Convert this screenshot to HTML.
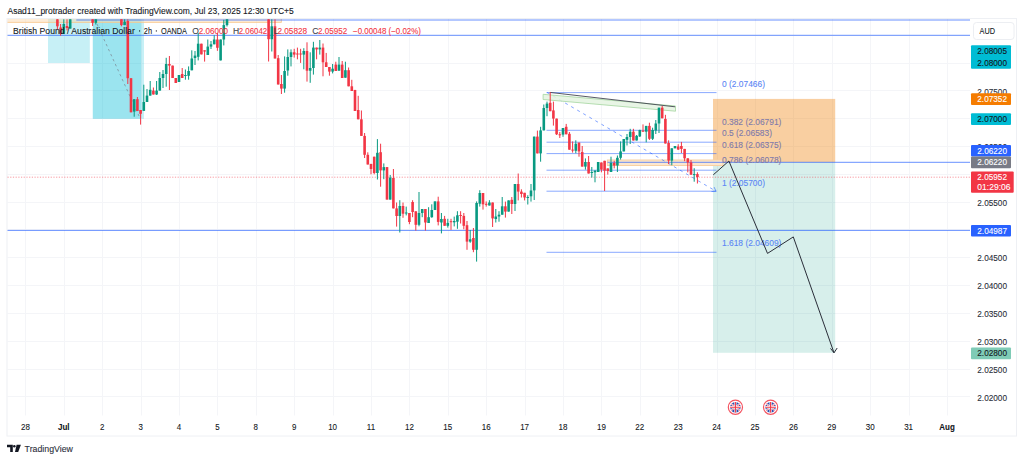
<!DOCTYPE html>
<html><head><meta charset="utf-8"><style>
html,body{margin:0;padding:0;background:#fff;overflow:hidden}
svg{display:block}
text{font-family:"Liberation Sans",sans-serif}
</style></head><body>
<svg width="1024" height="461" viewBox="0 0 1024 461">
<rect x="0" y="0" width="1024" height="461" fill="#fff"/>
<rect x="7" y="18.5" width="1009.5" height="417.5" fill="none" stroke="#eef0f4" stroke-width="1"/>
<g><line x1="25.5" y1="19" x2="25.5" y2="415.5" stroke="#f4f5f8" stroke-width="1"/>
<line x1="64.5" y1="19" x2="64.5" y2="415.5" stroke="#f4f5f8" stroke-width="1"/>
<line x1="102.5" y1="19" x2="102.5" y2="415.5" stroke="#f4f5f8" stroke-width="1"/>
<line x1="141.5" y1="19" x2="141.5" y2="415.5" stroke="#f4f5f8" stroke-width="1"/>
<line x1="179.5" y1="19" x2="179.5" y2="415.5" stroke="#f4f5f8" stroke-width="1"/>
<line x1="217.5" y1="19" x2="217.5" y2="415.5" stroke="#f4f5f8" stroke-width="1"/>
<line x1="256.5" y1="19" x2="256.5" y2="415.5" stroke="#f4f5f8" stroke-width="1"/>
<line x1="294.5" y1="19" x2="294.5" y2="415.5" stroke="#f4f5f8" stroke-width="1"/>
<line x1="333.5" y1="19" x2="333.5" y2="415.5" stroke="#f4f5f8" stroke-width="1"/>
<line x1="371.5" y1="19" x2="371.5" y2="415.5" stroke="#f4f5f8" stroke-width="1"/>
<line x1="409.5" y1="19" x2="409.5" y2="415.5" stroke="#f4f5f8" stroke-width="1"/>
<line x1="448.5" y1="19" x2="448.5" y2="415.5" stroke="#f4f5f8" stroke-width="1"/>
<line x1="486.5" y1="19" x2="486.5" y2="415.5" stroke="#f4f5f8" stroke-width="1"/>
<line x1="525.5" y1="19" x2="525.5" y2="415.5" stroke="#f4f5f8" stroke-width="1"/>
<line x1="563.5" y1="19" x2="563.5" y2="415.5" stroke="#f4f5f8" stroke-width="1"/>
<line x1="601.5" y1="19" x2="601.5" y2="415.5" stroke="#f4f5f8" stroke-width="1"/>
<line x1="640.5" y1="19" x2="640.5" y2="415.5" stroke="#f4f5f8" stroke-width="1"/>
<line x1="678.5" y1="19" x2="678.5" y2="415.5" stroke="#f4f5f8" stroke-width="1"/>
<line x1="717.5" y1="19" x2="717.5" y2="415.5" stroke="#f4f5f8" stroke-width="1"/>
<line x1="755.5" y1="19" x2="755.5" y2="415.5" stroke="#f4f5f8" stroke-width="1"/>
<line x1="793.5" y1="19" x2="793.5" y2="415.5" stroke="#f4f5f8" stroke-width="1"/>
<line x1="832.5" y1="19" x2="832.5" y2="415.5" stroke="#f4f5f8" stroke-width="1"/>
<line x1="870.5" y1="19" x2="870.5" y2="415.5" stroke="#f4f5f8" stroke-width="1"/>
<line x1="909.5" y1="19" x2="909.5" y2="415.5" stroke="#f4f5f8" stroke-width="1"/>
<line x1="947.5" y1="19" x2="947.5" y2="415.5" stroke="#f4f5f8" stroke-width="1"/>
<line x1="7" y1="396.5" x2="970" y2="396.5" stroke="#f4f5f8" stroke-width="1"/>
<line x1="7" y1="369.5" x2="970" y2="369.5" stroke="#f4f5f8" stroke-width="1"/>
<line x1="7" y1="341.5" x2="970" y2="341.5" stroke="#f4f5f8" stroke-width="1"/>
<line x1="7" y1="313.5" x2="970" y2="313.5" stroke="#f4f5f8" stroke-width="1"/>
<line x1="7" y1="285.5" x2="970" y2="285.5" stroke="#f4f5f8" stroke-width="1"/>
<line x1="7" y1="257.5" x2="970" y2="257.5" stroke="#f4f5f8" stroke-width="1"/>
<line x1="7" y1="229.5" x2="970" y2="229.5" stroke="#f4f5f8" stroke-width="1"/>
<line x1="7" y1="202.5" x2="970" y2="202.5" stroke="#f4f5f8" stroke-width="1"/>
<line x1="7" y1="174.5" x2="970" y2="174.5" stroke="#f4f5f8" stroke-width="1"/>
<line x1="7" y1="146.5" x2="970" y2="146.5" stroke="#f4f5f8" stroke-width="1"/>
<line x1="7" y1="118.5" x2="970" y2="118.5" stroke="#f4f5f8" stroke-width="1"/>
<line x1="7" y1="90.5" x2="970" y2="90.5" stroke="#f4f5f8" stroke-width="1"/>
<line x1="7" y1="63.5" x2="970" y2="63.5" stroke="#f4f5f8" stroke-width="1"/>
<line x1="7" y1="35.5" x2="970" y2="35.5" stroke="#f4f5f8" stroke-width="1"/></g>
<g><rect x="48" y="19" width="41.8" height="44" fill="#00bcd4" fill-opacity="0.22"/>
<rect x="92.8" y="19" width="51.2" height="99.8" fill="#00bcd4" fill-opacity="0.22"/>
<rect x="92.8" y="19" width="48.3" height="99.8" fill="#00bcd4" fill-opacity="0.22"/>
<rect x="7.5" y="19" width="274" height="3.4" fill="#fbd9b0" fill-opacity="0.5"/>
<polyline points="7.5,22.4 281.4,22.4 281.4,19" fill="none" stroke="#f7c58a" stroke-opacity="0.8" stroke-width="1"/>
<rect x="713" y="98.9" width="122.2" height="63.4" fill="#ef7c00" fill-opacity="0.37"/>
<rect x="713" y="162.3" width="122.2" height="190.5" fill="#089981" fill-opacity="0.16"/>
<rect x="607.4" y="160" width="115.6" height="5.5" fill="#fce7cf" stroke="#f8d2a4" stroke-width="1"/>
<line x1="76.3" y1="20" x2="970" y2="20" stroke="#2962ff" stroke-opacity="0.7" stroke-width="1"/>
<line x1="7.5" y1="35.3" x2="970" y2="35.3" stroke="#2962ff" stroke-opacity="0.7" stroke-width="1"/>
<line x1="607.5" y1="162.3" x2="970" y2="162.3" stroke="#2962ff" stroke-opacity="0.7" stroke-width="1"/>
<line x1="7.5" y1="230.4" x2="970" y2="230.4" stroke="#2962ff" stroke-opacity="0.7" stroke-width="1"/>
<line x1="7.5" y1="177.2" x2="970" y2="177.2" stroke="#f23645" stroke-opacity="0.5" stroke-width="1" stroke-dasharray="1.2,1.5"/>
<line x1="546.5" y1="92.6" x2="716.5" y2="92.6" stroke="#2962ff" stroke-opacity="0.55" stroke-width="1"/>
<line x1="546.5" y1="130.3" x2="716.5" y2="130.3" stroke="#2962ff" stroke-opacity="0.55" stroke-width="1"/>
<line x1="546.5" y1="142.2" x2="716.5" y2="142.2" stroke="#2962ff" stroke-opacity="0.55" stroke-width="1"/>
<line x1="546.5" y1="153.6" x2="716.5" y2="153.6" stroke="#2962ff" stroke-opacity="0.55" stroke-width="1"/>
<line x1="546.5" y1="170.2" x2="716.5" y2="170.2" stroke="#2962ff" stroke-opacity="0.55" stroke-width="1"/>
<line x1="546.5" y1="191.2" x2="716.5" y2="191.2" stroke="#2962ff" stroke-opacity="0.55" stroke-width="1"/>
<line x1="546.5" y1="252.3" x2="716.5" y2="252.3" stroke="#2962ff" stroke-opacity="0.55" stroke-width="1"/>
<line x1="547" y1="92.4" x2="716" y2="191.2" stroke="#2962ff" stroke-opacity="0.6" stroke-width="1" stroke-dasharray="3,4"/>
<polyline points="714.1,187.1 716,191.2 711.5,191.5" fill="none" stroke="#2962ff" stroke-opacity="0.6" stroke-width="1"/>
<line x1="97" y1="24" x2="139" y2="116" stroke="#787b86" stroke-opacity="0.8" stroke-width="0.8" stroke-dasharray="2.5,3"/>
<polygon points="543.1,94.3 675.5,106.0 675.5,111.2 543.1,99.5" fill="#e4f3e0" fill-opacity="0.85" stroke="#a5d6a0" stroke-width="0.8"/>
<line x1="549.9" y1="92.4" x2="675" y2="106.8" stroke="#434651" stroke-width="0.9"/></g>
<g><rect x="56.90" y="19.30" width="1" height="10.50" fill="#f23645"/>
<rect x="56.10" y="19.30" width="2.6" height="7.00" fill="#f23645"/>
<rect x="60.10" y="24.00" width="1" height="11.70" fill="#f23645"/>
<rect x="59.30" y="27.50" width="2.6" height="6.50" fill="#f23645"/>
<rect x="63.30" y="19.30" width="1" height="14.70" fill="#089981"/>
<rect x="62.50" y="24.00" width="2.6" height="10.00" fill="#089981"/>
<rect x="66.50" y="19.30" width="1" height="11.10" fill="#f23645"/>
<rect x="65.70" y="26.00" width="2.6" height="2.00" fill="#f23645"/>
<rect x="69.70" y="19.30" width="1" height="9.30" fill="#089981"/>
<rect x="68.90" y="19.30" width="2.6" height="9.30" fill="#089981"/>
<rect x="92.10" y="19.30" width="1" height="6.70" fill="#f23645"/>
<rect x="91.30" y="19.30" width="2.6" height="3.50" fill="#f23645"/>
<rect x="95.30" y="19.30" width="1" height="5.20" fill="#089981"/>
<rect x="94.50" y="19.30" width="2.6" height="3.50" fill="#089981"/>
<rect x="120.90" y="19.30" width="1" height="7.00" fill="#f23645"/>
<rect x="120.10" y="19.30" width="2.6" height="5.80" fill="#f23645"/>
<rect x="124.10" y="19.30" width="1" height="5.80" fill="#089981"/>
<rect x="123.30" y="21.60" width="2.6" height="3.50" fill="#089981"/>
<rect x="127.30" y="19.30" width="1" height="64.70" fill="#f23645"/>
<rect x="126.50" y="21.00" width="2.6" height="57.20" fill="#f23645"/>
<rect x="130.50" y="78.20" width="1" height="34.10" fill="#f23645"/>
<rect x="129.70" y="78.20" width="2.6" height="34.10" fill="#f23645"/>
<rect x="133.70" y="99.20" width="1" height="17.50" fill="#089981"/>
<rect x="132.90" y="99.20" width="2.6" height="12.40" fill="#089981"/>
<rect x="136.90" y="97.00" width="1" height="13.90" fill="#f23645"/>
<rect x="136.10" y="99.20" width="2.6" height="11.70" fill="#f23645"/>
<rect x="140.10" y="110.00" width="1" height="14.60" fill="#f23645"/>
<rect x="139.30" y="110.00" width="2.6" height="3.80" fill="#f23645"/>
<rect x="143.30" y="84.70" width="1" height="26.20" fill="#089981"/>
<rect x="142.50" y="102.00" width="2.6" height="8.90" fill="#089981"/>
<rect x="146.50" y="89.00" width="1" height="13.00" fill="#089981"/>
<rect x="145.70" y="95.60" width="2.6" height="6.40" fill="#089981"/>
<rect x="149.70" y="81.00" width="1" height="14.60" fill="#089981"/>
<rect x="148.90" y="89.80" width="2.6" height="5.80" fill="#089981"/>
<rect x="152.90" y="87.50" width="1" height="7.00" fill="#f23645"/>
<rect x="152.10" y="90.60" width="2.6" height="3.90" fill="#f23645"/>
<rect x="156.10" y="81.00" width="1" height="14.00" fill="#089981"/>
<rect x="155.30" y="90.60" width="2.6" height="3.90" fill="#089981"/>
<rect x="159.30" y="72.00" width="1" height="18.60" fill="#089981"/>
<rect x="158.50" y="78.00" width="2.6" height="12.60" fill="#089981"/>
<rect x="162.50" y="70.00" width="1" height="18.00" fill="#089981"/>
<rect x="161.70" y="74.00" width="2.6" height="4.00" fill="#089981"/>
<rect x="165.70" y="57.80" width="1" height="28.90" fill="#089981"/>
<rect x="164.90" y="64.00" width="2.6" height="10.00" fill="#089981"/>
<rect x="168.90" y="56.00" width="1" height="34.00" fill="#f23645"/>
<rect x="168.10" y="64.00" width="2.6" height="1.60" fill="#f23645"/>
<rect x="172.10" y="65.60" width="1" height="12.40" fill="#f23645"/>
<rect x="171.30" y="65.60" width="2.6" height="12.40" fill="#f23645"/>
<rect x="175.30" y="78.00" width="1" height="5.00" fill="#f23645"/>
<rect x="174.50" y="78.00" width="2.6" height="5.00" fill="#f23645"/>
<rect x="178.50" y="75.00" width="1" height="7.00" fill="#089981"/>
<rect x="177.70" y="75.00" width="2.6" height="7.00" fill="#089981"/>
<rect x="181.70" y="68.00" width="1" height="10.00" fill="#f23645"/>
<rect x="180.90" y="74.00" width="2.6" height="4.00" fill="#f23645"/>
<rect x="184.90" y="69.50" width="1" height="10.20" fill="#089981"/>
<rect x="184.10" y="75.00" width="2.6" height="1.00" fill="#089981"/>
<rect x="188.10" y="66.40" width="1" height="13.30" fill="#089981"/>
<rect x="187.30" y="71.00" width="2.6" height="4.80" fill="#089981"/>
<rect x="191.30" y="50.30" width="1" height="20.00" fill="#089981"/>
<rect x="190.50" y="58.50" width="2.6" height="11.80" fill="#089981"/>
<rect x="194.50" y="51.00" width="1" height="14.00" fill="#089981"/>
<rect x="193.70" y="55.60" width="2.6" height="2.40" fill="#089981"/>
<rect x="197.70" y="32.90" width="1" height="27.50" fill="#089981"/>
<rect x="196.90" y="43.70" width="2.6" height="13.10" fill="#089981"/>
<rect x="200.90" y="43.70" width="1" height="10.70" fill="#f23645"/>
<rect x="200.10" y="43.70" width="2.6" height="10.70" fill="#f23645"/>
<rect x="204.10" y="50.30" width="1" height="11.30" fill="#f23645"/>
<rect x="203.30" y="50.30" width="2.6" height="1.20" fill="#f23645"/>
<rect x="207.30" y="39.50" width="1" height="15.50" fill="#089981"/>
<rect x="206.50" y="46.60" width="2.6" height="8.40" fill="#089981"/>
<rect x="210.50" y="41.00" width="1" height="8.00" fill="#089981"/>
<rect x="209.70" y="44.30" width="2.6" height="2.30" fill="#089981"/>
<rect x="213.70" y="35.30" width="1" height="9.00" fill="#089981"/>
<rect x="212.90" y="39.50" width="2.6" height="4.80" fill="#089981"/>
<rect x="216.90" y="32.90" width="1" height="17.90" fill="#f23645"/>
<rect x="216.10" y="39.50" width="2.6" height="8.30" fill="#f23645"/>
<rect x="220.10" y="39.50" width="1" height="20.90" fill="#089981"/>
<rect x="219.30" y="39.50" width="2.6" height="20.90" fill="#089981"/>
<rect x="223.30" y="19.80" width="1" height="25.60" fill="#089981"/>
<rect x="222.50" y="25.10" width="2.6" height="14.40" fill="#089981"/>
<rect x="226.50" y="19.30" width="1" height="7.20" fill="#089981"/>
<rect x="225.70" y="19.30" width="2.6" height="5.80" fill="#089981"/>
<rect x="268.10" y="19.30" width="1" height="42.20" fill="#f23645"/>
<rect x="267.30" y="19.30" width="2.6" height="19.90" fill="#f23645"/>
<rect x="271.30" y="19.30" width="1" height="32.20" fill="#089981"/>
<rect x="270.50" y="26.30" width="2.6" height="12.90" fill="#089981"/>
<rect x="274.50" y="19.30" width="1" height="39.20" fill="#f23645"/>
<rect x="273.70" y="26.30" width="2.6" height="32.20" fill="#f23645"/>
<rect x="277.70" y="55.00" width="1" height="29.50" fill="#f23645"/>
<rect x="276.90" y="58.20" width="2.6" height="26.30" fill="#f23645"/>
<rect x="280.90" y="75.00" width="1" height="19.00" fill="#f23645"/>
<rect x="280.10" y="84.00" width="2.6" height="4.60" fill="#f23645"/>
<rect x="284.10" y="56.40" width="1" height="36.30" fill="#089981"/>
<rect x="283.30" y="71.00" width="2.6" height="17.60" fill="#089981"/>
<rect x="287.30" y="49.40" width="1" height="26.30" fill="#089981"/>
<rect x="286.50" y="57.00" width="2.6" height="13.50" fill="#089981"/>
<rect x="290.50" y="49.40" width="1" height="17.00" fill="#089981"/>
<rect x="289.70" y="52.30" width="2.6" height="4.70" fill="#089981"/>
<rect x="293.70" y="48.80" width="1" height="8.80" fill="#f23645"/>
<rect x="292.90" y="52.30" width="2.6" height="2.30" fill="#f23645"/>
<rect x="296.90" y="47.60" width="1" height="11.70" fill="#f23645"/>
<rect x="296.10" y="53.50" width="2.6" height="1.00" fill="#f23645"/>
<rect x="300.10" y="48.80" width="1" height="14.10" fill="#f23645"/>
<rect x="299.30" y="53.50" width="2.6" height="1.00" fill="#f23645"/>
<rect x="303.30" y="48.20" width="1" height="21.10" fill="#089981"/>
<rect x="302.50" y="51.00" width="2.6" height="3.60" fill="#089981"/>
<rect x="306.50" y="42.30" width="1" height="39.30" fill="#f23645"/>
<rect x="305.70" y="51.00" width="2.6" height="19.70" fill="#f23645"/>
<rect x="309.70" y="52.30" width="1" height="30.50" fill="#089981"/>
<rect x="308.90" y="68.00" width="2.6" height="2.70" fill="#089981"/>
<rect x="312.90" y="41.80" width="1" height="32.80" fill="#089981"/>
<rect x="312.10" y="47.60" width="2.6" height="20.40" fill="#089981"/>
<rect x="316.10" y="47.60" width="1" height="11.70" fill="#f23645"/>
<rect x="315.30" y="47.60" width="2.6" height="1.80" fill="#f23645"/>
<rect x="319.30" y="40.00" width="1" height="14.60" fill="#089981"/>
<rect x="318.50" y="47.60" width="2.6" height="1.80" fill="#089981"/>
<rect x="322.50" y="43.50" width="1" height="32.80" fill="#f23645"/>
<rect x="321.70" y="47.60" width="2.6" height="14.70" fill="#f23645"/>
<rect x="325.70" y="52.90" width="1" height="14.10" fill="#f23645"/>
<rect x="324.90" y="62.30" width="2.6" height="4.70" fill="#f23645"/>
<rect x="328.90" y="67.00" width="1" height="8.70" fill="#f23645"/>
<rect x="328.10" y="67.00" width="2.6" height="4.60" fill="#f23645"/>
<rect x="332.10" y="64.00" width="1" height="9.40" fill="#089981"/>
<rect x="331.30" y="68.70" width="2.6" height="2.90" fill="#089981"/>
<rect x="335.30" y="61.70" width="1" height="9.30" fill="#f23645"/>
<rect x="334.50" y="64.60" width="2.6" height="6.40" fill="#f23645"/>
<rect x="338.50" y="57.00" width="1" height="13.70" fill="#089981"/>
<rect x="337.70" y="64.60" width="2.6" height="6.10" fill="#089981"/>
<rect x="341.70" y="61.00" width="1" height="17.00" fill="#f23645"/>
<rect x="340.90" y="64.60" width="2.6" height="13.40" fill="#f23645"/>
<rect x="344.90" y="61.70" width="1" height="16.00" fill="#089981"/>
<rect x="344.10" y="70.20" width="2.6" height="7.50" fill="#089981"/>
<rect x="348.10" y="67.50" width="1" height="18.80" fill="#f23645"/>
<rect x="347.30" y="70.20" width="2.6" height="16.10" fill="#f23645"/>
<rect x="351.30" y="79.80" width="1" height="11.20" fill="#f23645"/>
<rect x="350.50" y="86.30" width="2.6" height="4.70" fill="#f23645"/>
<rect x="354.50" y="89.80" width="1" height="21.20" fill="#f23645"/>
<rect x="353.70" y="90.00" width="2.6" height="21.00" fill="#f23645"/>
<rect x="357.70" y="95.80" width="1" height="23.50" fill="#f23645"/>
<rect x="356.90" y="110.00" width="2.6" height="9.30" fill="#f23645"/>
<rect x="360.90" y="110.50" width="1" height="25.40" fill="#f23645"/>
<rect x="360.10" y="119.30" width="2.6" height="16.60" fill="#f23645"/>
<rect x="364.10" y="133.00" width="1" height="25.00" fill="#f23645"/>
<rect x="363.30" y="135.90" width="2.6" height="18.90" fill="#f23645"/>
<rect x="367.30" y="152.30" width="1" height="12.20" fill="#f23645"/>
<rect x="366.50" y="154.80" width="2.6" height="9.70" fill="#f23645"/>
<rect x="370.50" y="163.90" width="1" height="10.40" fill="#f23645"/>
<rect x="369.70" y="163.90" width="2.6" height="5.10" fill="#f23645"/>
<rect x="373.70" y="156.70" width="1" height="17.60" fill="#f23645"/>
<rect x="372.90" y="156.70" width="2.6" height="16.30" fill="#f23645"/>
<rect x="376.90" y="139.10" width="1" height="40.40" fill="#089981"/>
<rect x="376.10" y="152.80" width="2.6" height="20.20" fill="#089981"/>
<rect x="380.10" y="143.70" width="1" height="43.00" fill="#f23645"/>
<rect x="379.30" y="152.20" width="2.6" height="18.20" fill="#f23645"/>
<rect x="383.30" y="163.40" width="1" height="15.80" fill="#089981"/>
<rect x="382.50" y="167.10" width="2.6" height="3.30" fill="#089981"/>
<rect x="386.50" y="167.10" width="1" height="32.50" fill="#f23645"/>
<rect x="385.70" y="167.10" width="2.6" height="32.50" fill="#f23645"/>
<rect x="389.70" y="175.00" width="1" height="24.60" fill="#089981"/>
<rect x="388.90" y="177.60" width="2.6" height="22.00" fill="#089981"/>
<rect x="392.90" y="169.00" width="1" height="39.40" fill="#f23645"/>
<rect x="392.10" y="178.00" width="2.6" height="30.40" fill="#f23645"/>
<rect x="396.10" y="202.50" width="1" height="24.10" fill="#f23645"/>
<rect x="395.30" y="208.40" width="2.6" height="7.60" fill="#f23645"/>
<rect x="399.30" y="200.20" width="1" height="32.30" fill="#089981"/>
<rect x="398.50" y="206.00" width="2.6" height="10.00" fill="#089981"/>
<rect x="402.50" y="202.50" width="1" height="15.30" fill="#f23645"/>
<rect x="401.70" y="206.00" width="2.6" height="7.70" fill="#f23645"/>
<rect x="405.70" y="206.60" width="1" height="8.80" fill="#089981"/>
<rect x="404.90" y="212.50" width="2.6" height="1.00" fill="#089981"/>
<rect x="408.90" y="213.00" width="1" height="11.20" fill="#f23645"/>
<rect x="408.10" y="213.00" width="2.6" height="9.00" fill="#f23645"/>
<rect x="412.10" y="200.20" width="1" height="17.00" fill="#f23645"/>
<rect x="411.30" y="202.00" width="2.6" height="10.00" fill="#f23645"/>
<rect x="415.30" y="211.30" width="1" height="19.30" fill="#f23645"/>
<rect x="414.50" y="211.30" width="2.6" height="13.50" fill="#f23645"/>
<rect x="418.50" y="192.00" width="1" height="34.30" fill="#089981"/>
<rect x="417.70" y="213.00" width="2.6" height="11.80" fill="#089981"/>
<rect x="421.70" y="209.00" width="1" height="8.20" fill="#089981"/>
<rect x="420.90" y="209.00" width="2.6" height="4.00" fill="#089981"/>
<rect x="424.90" y="209.00" width="1" height="21.60" fill="#f23645"/>
<rect x="424.10" y="209.00" width="2.6" height="13.50" fill="#f23645"/>
<rect x="428.10" y="207.20" width="1" height="15.80" fill="#089981"/>
<rect x="427.30" y="217.20" width="2.6" height="5.80" fill="#089981"/>
<rect x="431.30" y="204.30" width="1" height="13.50" fill="#089981"/>
<rect x="430.50" y="210.00" width="2.6" height="7.20" fill="#089981"/>
<rect x="434.50" y="201.40" width="1" height="8.60" fill="#089981"/>
<rect x="433.70" y="201.40" width="2.6" height="8.60" fill="#089981"/>
<rect x="437.70" y="196.70" width="1" height="28.70" fill="#f23645"/>
<rect x="436.90" y="201.40" width="2.6" height="20.50" fill="#f23645"/>
<rect x="440.90" y="213.00" width="1" height="20.40" fill="#089981"/>
<rect x="440.10" y="219.00" width="2.6" height="3.50" fill="#089981"/>
<rect x="444.10" y="215.90" width="1" height="9.90" fill="#f23645"/>
<rect x="443.30" y="218.80" width="2.6" height="7.00" fill="#f23645"/>
<rect x="447.30" y="218.80" width="1" height="8.80" fill="#089981"/>
<rect x="446.50" y="222.90" width="2.6" height="2.90" fill="#089981"/>
<rect x="450.50" y="218.80" width="1" height="11.10" fill="#f23645"/>
<rect x="449.70" y="221.20" width="2.6" height="1.00" fill="#f23645"/>
<rect x="453.70" y="216.60" width="1" height="9.80" fill="#089981"/>
<rect x="452.90" y="221.00" width="2.6" height="1.30" fill="#089981"/>
<rect x="456.90" y="211.20" width="1" height="17.60" fill="#089981"/>
<rect x="456.10" y="215.30" width="2.6" height="6.40" fill="#089981"/>
<rect x="460.10" y="211.20" width="1" height="12.30" fill="#f23645"/>
<rect x="459.30" y="215.00" width="2.6" height="1.00" fill="#f23645"/>
<rect x="463.30" y="213.00" width="1" height="16.30" fill="#f23645"/>
<rect x="462.50" y="215.90" width="2.6" height="9.90" fill="#f23645"/>
<rect x="466.50" y="221.00" width="1" height="28.80" fill="#f23645"/>
<rect x="465.70" y="225.20" width="2.6" height="16.40" fill="#f23645"/>
<rect x="469.70" y="230.00" width="1" height="12.80" fill="#089981"/>
<rect x="468.90" y="239.30" width="2.6" height="2.30" fill="#089981"/>
<rect x="472.90" y="228.00" width="1" height="24.20" fill="#f23645"/>
<rect x="472.10" y="238.00" width="2.6" height="11.80" fill="#f23645"/>
<rect x="476.10" y="201.40" width="1" height="60.20" fill="#089981"/>
<rect x="475.30" y="203.00" width="2.6" height="46.80" fill="#089981"/>
<rect x="479.30" y="190.20" width="1" height="16.40" fill="#089981"/>
<rect x="478.50" y="193.00" width="2.6" height="10.70" fill="#089981"/>
<rect x="482.50" y="193.00" width="1" height="16.60" fill="#f23645"/>
<rect x="481.70" y="193.00" width="2.6" height="11.30" fill="#f23645"/>
<rect x="485.70" y="201.40" width="1" height="5.20" fill="#f23645"/>
<rect x="484.90" y="203.80" width="2.6" height="1.00" fill="#f23645"/>
<rect x="488.90" y="200.20" width="1" height="5.30" fill="#089981"/>
<rect x="488.10" y="202.50" width="2.6" height="3.00" fill="#089981"/>
<rect x="492.10" y="202.50" width="1" height="24.50" fill="#f23645"/>
<rect x="491.30" y="202.50" width="2.6" height="15.90" fill="#f23645"/>
<rect x="495.30" y="209.00" width="1" height="13.50" fill="#089981"/>
<rect x="494.50" y="216.50" width="2.6" height="2.50" fill="#089981"/>
<rect x="498.50" y="211.20" width="1" height="10.50" fill="#089981"/>
<rect x="497.70" y="214.70" width="2.6" height="1.80" fill="#089981"/>
<rect x="501.70" y="197.00" width="1" height="17.70" fill="#089981"/>
<rect x="500.90" y="206.30" width="2.6" height="8.40" fill="#089981"/>
<rect x="504.90" y="201.60" width="1" height="16.00" fill="#f23645"/>
<rect x="504.10" y="206.30" width="2.6" height="5.30" fill="#f23645"/>
<rect x="508.10" y="200.40" width="1" height="11.20" fill="#089981"/>
<rect x="507.30" y="200.40" width="2.6" height="11.20" fill="#089981"/>
<rect x="511.30" y="197.00" width="1" height="17.00" fill="#f23645"/>
<rect x="510.50" y="199.80" width="2.6" height="4.20" fill="#f23645"/>
<rect x="514.50" y="184.00" width="1" height="27.00" fill="#089981"/>
<rect x="513.70" y="184.00" width="2.6" height="20.00" fill="#089981"/>
<rect x="517.70" y="173.50" width="1" height="26.90" fill="#f23645"/>
<rect x="516.90" y="184.00" width="2.6" height="7.60" fill="#f23645"/>
<rect x="520.90" y="189.30" width="1" height="8.20" fill="#f23645"/>
<rect x="520.10" y="191.60" width="2.6" height="2.40" fill="#f23645"/>
<rect x="524.10" y="192.80" width="1" height="7.60" fill="#f23645"/>
<rect x="523.30" y="192.80" width="2.6" height="4.70" fill="#f23645"/>
<rect x="527.30" y="195.20" width="1" height="9.30" fill="#089981"/>
<rect x="526.50" y="197.00" width="2.6" height="1.00" fill="#089981"/>
<rect x="530.50" y="184.00" width="1" height="17.60" fill="#089981"/>
<rect x="529.70" y="190.50" width="2.6" height="5.80" fill="#089981"/>
<rect x="533.70" y="136.60" width="1" height="63.40" fill="#089981"/>
<rect x="532.90" y="136.60" width="2.6" height="53.80" fill="#089981"/>
<rect x="536.90" y="130.60" width="1" height="22.80" fill="#f23645"/>
<rect x="536.10" y="136.60" width="2.6" height="16.80" fill="#f23645"/>
<rect x="540.10" y="126.80" width="1" height="34.90" fill="#089981"/>
<rect x="539.30" y="130.40" width="2.6" height="23.00" fill="#089981"/>
<rect x="543.30" y="104.50" width="1" height="25.90" fill="#089981"/>
<rect x="542.50" y="108.00" width="2.6" height="22.40" fill="#089981"/>
<rect x="546.50" y="101.60" width="1" height="14.60" fill="#089981"/>
<rect x="545.70" y="103.60" width="2.6" height="4.40" fill="#089981"/>
<rect x="549.70" y="92.20" width="1" height="19.00" fill="#f23645"/>
<rect x="548.90" y="102.80" width="2.6" height="8.40" fill="#f23645"/>
<rect x="552.90" y="101.60" width="1" height="24.00" fill="#f23645"/>
<rect x="552.10" y="110.40" width="2.6" height="8.20" fill="#f23645"/>
<rect x="556.10" y="118.60" width="1" height="16.40" fill="#f23645"/>
<rect x="555.30" y="118.60" width="2.6" height="15.70" fill="#f23645"/>
<rect x="559.30" y="132.00" width="1" height="6.00" fill="#f23645"/>
<rect x="558.50" y="134.30" width="2.6" height="1.00" fill="#f23645"/>
<rect x="562.50" y="128.00" width="1" height="8.80" fill="#089981"/>
<rect x="561.70" y="128.00" width="2.6" height="6.60" fill="#089981"/>
<rect x="565.70" y="123.90" width="1" height="10.40" fill="#f23645"/>
<rect x="564.90" y="126.80" width="2.6" height="7.50" fill="#f23645"/>
<rect x="568.90" y="132.00" width="1" height="17.70" fill="#f23645"/>
<rect x="568.10" y="133.80" width="2.6" height="15.90" fill="#f23645"/>
<rect x="572.10" y="141.40" width="1" height="11.20" fill="#f23645"/>
<rect x="571.30" y="149.60" width="2.6" height="1.00" fill="#f23645"/>
<rect x="575.30" y="140.30" width="1" height="12.90" fill="#089981"/>
<rect x="574.50" y="143.80" width="2.6" height="7.00" fill="#089981"/>
<rect x="578.50" y="142.60" width="1" height="14.10" fill="#f23645"/>
<rect x="577.70" y="142.60" width="2.6" height="8.80" fill="#f23645"/>
<rect x="581.70" y="146.00" width="1" height="20.60" fill="#f23645"/>
<rect x="580.90" y="152.00" width="2.6" height="14.60" fill="#f23645"/>
<rect x="584.90" y="158.40" width="1" height="11.20" fill="#089981"/>
<rect x="584.10" y="162.00" width="2.6" height="4.60" fill="#089981"/>
<rect x="588.10" y="156.00" width="1" height="17.50" fill="#f23645"/>
<rect x="587.30" y="162.00" width="2.6" height="11.50" fill="#f23645"/>
<rect x="591.30" y="167.00" width="1" height="10.60" fill="#089981"/>
<rect x="590.50" y="172.00" width="2.6" height="1.00" fill="#089981"/>
<rect x="594.50" y="170.50" width="1" height="11.80" fill="#089981"/>
<rect x="593.70" y="170.50" width="2.6" height="1.80" fill="#089981"/>
<rect x="597.70" y="162.00" width="1" height="10.00" fill="#089981"/>
<rect x="596.90" y="162.00" width="2.6" height="10.00" fill="#089981"/>
<rect x="600.90" y="162.50" width="1" height="9.80" fill="#f23645"/>
<rect x="600.10" y="162.50" width="2.6" height="7.10" fill="#f23645"/>
<rect x="604.10" y="160.80" width="1" height="30.20" fill="#f23645"/>
<rect x="603.30" y="160.80" width="2.6" height="9.90" fill="#f23645"/>
<rect x="607.30" y="168.40" width="1" height="6.20" fill="#f23645"/>
<rect x="606.50" y="168.40" width="2.6" height="2.60" fill="#f23645"/>
<rect x="610.50" y="156.70" width="1" height="15.30" fill="#089981"/>
<rect x="609.70" y="163.00" width="2.6" height="9.00" fill="#089981"/>
<rect x="613.70" y="160.80" width="1" height="7.60" fill="#f23645"/>
<rect x="612.90" y="163.00" width="2.6" height="2.50" fill="#f23645"/>
<rect x="616.90" y="155.50" width="1" height="16.50" fill="#089981"/>
<rect x="616.10" y="157.80" width="2.6" height="7.70" fill="#089981"/>
<rect x="620.10" y="141.40" width="1" height="18.20" fill="#089981"/>
<rect x="619.30" y="151.40" width="2.6" height="6.40" fill="#089981"/>
<rect x="623.30" y="139.00" width="1" height="12.40" fill="#089981"/>
<rect x="622.50" y="139.00" width="2.6" height="12.40" fill="#089981"/>
<rect x="626.50" y="134.00" width="1" height="11.50" fill="#089981"/>
<rect x="625.70" y="137.00" width="2.6" height="2.70" fill="#089981"/>
<rect x="629.70" y="128.80" width="1" height="15.20" fill="#089981"/>
<rect x="628.90" y="131.70" width="2.6" height="5.30" fill="#089981"/>
<rect x="632.90" y="128.80" width="1" height="11.70" fill="#f23645"/>
<rect x="632.10" y="131.70" width="2.6" height="8.80" fill="#f23645"/>
<rect x="636.10" y="135.00" width="1" height="5.50" fill="#089981"/>
<rect x="635.30" y="135.80" width="2.6" height="4.70" fill="#089981"/>
<rect x="639.30" y="129.70" width="1" height="7.30" fill="#089981"/>
<rect x="638.50" y="130.00" width="2.6" height="6.40" fill="#089981"/>
<rect x="642.50" y="124.40" width="1" height="7.30" fill="#f23645"/>
<rect x="641.70" y="130.60" width="2.6" height="1.10" fill="#f23645"/>
<rect x="645.70" y="125.90" width="1" height="16.40" fill="#089981"/>
<rect x="644.90" y="125.90" width="2.6" height="5.80" fill="#089981"/>
<rect x="648.90" y="122.70" width="1" height="17.30" fill="#f23645"/>
<rect x="648.10" y="125.90" width="2.6" height="12.90" fill="#f23645"/>
<rect x="652.10" y="127.70" width="1" height="12.30" fill="#089981"/>
<rect x="651.30" y="130.00" width="2.6" height="8.80" fill="#089981"/>
<rect x="655.30" y="120.00" width="1" height="14.00" fill="#089981"/>
<rect x="654.50" y="123.50" width="2.6" height="7.10" fill="#089981"/>
<rect x="658.50" y="107.70" width="1" height="25.30" fill="#089981"/>
<rect x="657.70" y="107.70" width="2.6" height="15.80" fill="#089981"/>
<rect x="661.70" y="106.00" width="1" height="12.30" fill="#f23645"/>
<rect x="660.90" y="107.70" width="2.6" height="10.60" fill="#f23645"/>
<rect x="664.90" y="114.80" width="1" height="28.70" fill="#f23645"/>
<rect x="664.10" y="118.90" width="2.6" height="24.60" fill="#f23645"/>
<rect x="668.10" y="140.30" width="1" height="23.80" fill="#f23645"/>
<rect x="667.30" y="143.00" width="2.6" height="17.60" fill="#f23645"/>
<rect x="671.30" y="148.30" width="1" height="17.00" fill="#089981"/>
<rect x="670.50" y="148.30" width="2.6" height="12.30" fill="#089981"/>
<rect x="674.50" y="146.00" width="1" height="2.30" fill="#089981"/>
<rect x="673.70" y="146.00" width="2.6" height="2.30" fill="#089981"/>
<rect x="677.70" y="144.20" width="1" height="5.80" fill="#f23645"/>
<rect x="676.90" y="146.50" width="2.6" height="3.00" fill="#f23645"/>
<rect x="680.90" y="141.90" width="1" height="11.10" fill="#f23645"/>
<rect x="680.10" y="146.00" width="2.6" height="2.90" fill="#f23645"/>
<rect x="684.10" y="148.90" width="1" height="12.30" fill="#f23645"/>
<rect x="683.30" y="148.90" width="2.6" height="9.40" fill="#f23645"/>
<rect x="687.30" y="158.30" width="1" height="14.00" fill="#f23645"/>
<rect x="686.50" y="158.30" width="2.6" height="4.10" fill="#f23645"/>
<rect x="690.50" y="160.00" width="1" height="14.70" fill="#f23645"/>
<rect x="689.70" y="162.40" width="2.6" height="12.30" fill="#f23645"/>
<rect x="693.70" y="168.20" width="1" height="13.50" fill="#089981"/>
<rect x="692.90" y="174.10" width="2.6" height="1.00" fill="#089981"/>
<rect x="696.90" y="172.30" width="1" height="11.20" fill="#f23645"/>
<rect x="696.10" y="174.10" width="2.6" height="2.90" fill="#f23645"/></g>
<g><text x="722" y="87.2" font-size="8.9" fill="#5b86f5" stroke="#5b86f5" stroke-width="0.1" text-anchor="start" font-weight="normal" textLength="43.0" lengthAdjust="spacingAndGlyphs" >0 (2.07466)</text>
<text x="722" y="124.5" font-size="8.9" fill="#7f7aaa" stroke="#7f7aaa" stroke-width="0.1" text-anchor="start" font-weight="normal" textLength="59.4" lengthAdjust="spacingAndGlyphs" >0.382 (2.06791)</text>
<text x="722" y="136.2" font-size="8.9" fill="#7f7aaa" stroke="#7f7aaa" stroke-width="0.1" text-anchor="start" font-weight="normal" textLength="50.0" lengthAdjust="spacingAndGlyphs" >0.5 (2.06583)</text>
<text x="722" y="147.8" font-size="8.9" fill="#7f7aaa" stroke="#7f7aaa" stroke-width="0.1" text-anchor="start" font-weight="normal" textLength="59.4" lengthAdjust="spacingAndGlyphs" >0.618 (2.06375)</text>
<text x="722" y="163.4" font-size="8.9" fill="#7f7aaa" stroke="#7f7aaa" stroke-width="0.1" text-anchor="start" font-weight="normal" textLength="59.4" lengthAdjust="spacingAndGlyphs" >0.786 (2.06078)</text>
<text x="722" y="185.8" font-size="8.9" fill="#5b86f5" stroke="#5b86f5" stroke-width="0.1" text-anchor="start" font-weight="normal" textLength="43.0" lengthAdjust="spacingAndGlyphs" >1 (2.05700)</text>
<text x="722" y="246.0" font-size="8.9" fill="#5b86f5" stroke="#5b86f5" stroke-width="0.1" text-anchor="start" font-weight="normal" textLength="59.4" lengthAdjust="spacingAndGlyphs" >1.618 (2.04609)</text></g>
<polyline points="713.3,174.8 728.9,161 767.5,253.4 793.3,236.9 834,352.8" fill="none" stroke="#2a2e39" stroke-width="1"/><polyline points="830.5,348.4 834,352.8 837.2,348.0" fill="none" stroke="#2a2e39" stroke-width="1"/>
<g transform="translate(735.4,407.2)"><circle r="7.1" fill="#fff" stroke="#f23645" stroke-width="1.2" stroke-opacity="0.85"/><circle r="5.3" fill="#2c4fb0"/><path d="M-4.5,-3.5 L4.5,3.5 M-4.5,3.5 L4.5,-3.5" stroke="#fff" stroke-width="1.6"/><path d="M-4.5,-3.5 L4.5,3.5 M-4.5,3.5 L4.5,-3.5" stroke="#f23645" stroke-width="0.6"/><path d="M0,-5.3 V5.3 M-5.3,0 H5.3" stroke="#fff" stroke-width="2.2"/><path d="M0,-5.3 V5.3 M-5.3,0 H5.3" stroke="#f23645" stroke-width="1.1"/></g><g transform="translate(770.6,407.2)"><circle r="7.1" fill="#fff" stroke="#f23645" stroke-width="1.2" stroke-opacity="0.85"/><circle r="5.3" fill="#2c4fb0"/><path d="M-4.5,-3.5 L4.5,3.5 M-4.5,3.5 L4.5,-3.5" stroke="#fff" stroke-width="1.6"/><path d="M-4.5,-3.5 L4.5,3.5 M-4.5,3.5 L4.5,-3.5" stroke="#f23645" stroke-width="0.6"/><path d="M0,-5.3 V5.3 M-5.3,0 H5.3" stroke="#fff" stroke-width="2.2"/><path d="M0,-5.3 V5.3 M-5.3,0 H5.3" stroke="#f23645" stroke-width="1.1"/></g>
<g><text x="7.5" y="14.3" font-size="8.5" fill="#131722" stroke="#131722" stroke-width="0.1" text-anchor="start" font-weight="normal" textLength="286.3" lengthAdjust="spacingAndGlyphs" >Asad11_protrader created with TradingView.com, Jul 23, 2025 12:30 UTC+5</text>
<text x="13.1" y="33.9" font-size="8.5" fill="#131722" stroke="#131722" stroke-width="0.1" text-anchor="start" font-weight="normal" textLength="121.7" lengthAdjust="spacingAndGlyphs" >British Pound / Australian Dollar</text>
<rect x="139" y="30.4" width="1.1" height="1.1" fill="#131722"/>
<text x="143.8" y="33.9" font-size="8.5" fill="#131722" stroke="#131722" stroke-width="0.1" text-anchor="start" font-weight="normal" textLength="8.2" lengthAdjust="spacingAndGlyphs" >2h</text>
<rect x="155.8" y="30.4" width="1.1" height="1.1" fill="#131722"/>
<text x="161" y="33.9" font-size="8.5" fill="#131722" stroke="#131722" stroke-width="0.1" text-anchor="start" font-weight="normal" textLength="26" lengthAdjust="spacingAndGlyphs" >OANDA</text>
<text x="192.3" y="33.9" font-size="8.5" fill="#3c3f4a" stroke="#3c3f4a" stroke-width="0.1" text-anchor="start" font-weight="normal" >O</text>
<text x="198.7" y="33.9" font-size="8.5" fill="#f23645" stroke="#f23645" stroke-width="0.1" text-anchor="start" font-weight="normal" textLength="29.2" lengthAdjust="spacingAndGlyphs" >2.06000</text>
<text x="233" y="33.9" font-size="8.5" fill="#3c3f4a" stroke="#3c3f4a" stroke-width="0.1" text-anchor="start" font-weight="normal" >H</text>
<text x="238.7" y="33.9" font-size="8.5" fill="#f23645" stroke="#f23645" stroke-width="0.1" text-anchor="start" font-weight="normal" textLength="28.5" lengthAdjust="spacingAndGlyphs" >2.06042</text>
<text x="273.6" y="33.9" font-size="8.5" fill="#3c3f4a" stroke="#3c3f4a" stroke-width="0.1" text-anchor="start" font-weight="normal" >L</text>
<text x="277.4" y="33.9" font-size="8.5" fill="#f23645" stroke="#f23645" stroke-width="0.1" text-anchor="start" font-weight="normal" textLength="29.8" lengthAdjust="spacingAndGlyphs" >2.05828</text>
<text x="312.3" y="33.9" font-size="8.5" fill="#3c3f4a" stroke="#3c3f4a" stroke-width="0.1" text-anchor="start" font-weight="normal" >C</text>
<text x="318" y="33.9" font-size="8.5" fill="#f23645" stroke="#f23645" stroke-width="0.1" text-anchor="start" font-weight="normal" textLength="29.3" lengthAdjust="spacingAndGlyphs" >2.05952</text>
<text x="353" y="33.9" font-size="8.5" fill="#f23645" stroke="#f23645" stroke-width="0.1" text-anchor="start" font-weight="normal" textLength="67.9" lengthAdjust="spacingAndGlyphs" >−0.00048 (−0.02%)</text></g>
<g><text x="977.3" y="38.8" font-size="9.2" fill="#2a2e39" stroke="#2a2e39" stroke-width="0.1" text-anchor="start" font-weight="normal" textLength="29.7" lengthAdjust="spacingAndGlyphs" >2.08500</text>
<text x="977.3" y="66.7" font-size="9.2" fill="#2a2e39" stroke="#2a2e39" stroke-width="0.1" text-anchor="start" font-weight="normal" textLength="29.7" lengthAdjust="spacingAndGlyphs" >2.08000</text>
<text x="977.3" y="94.5" font-size="9.2" fill="#2a2e39" stroke="#2a2e39" stroke-width="0.1" text-anchor="start" font-weight="normal" textLength="29.7" lengthAdjust="spacingAndGlyphs" >2.07500</text>
<text x="977.3" y="122.3" font-size="9.2" fill="#2a2e39" stroke="#2a2e39" stroke-width="0.1" text-anchor="start" font-weight="normal" textLength="29.7" lengthAdjust="spacingAndGlyphs" >2.07000</text>
<text x="977.3" y="150.1" font-size="9.2" fill="#2a2e39" stroke="#2a2e39" stroke-width="0.1" text-anchor="start" font-weight="normal" textLength="29.7" lengthAdjust="spacingAndGlyphs" >2.06500</text>
<text x="977.3" y="205.7" font-size="9.2" fill="#2a2e39" stroke="#2a2e39" stroke-width="0.1" text-anchor="start" font-weight="normal" textLength="29.7" lengthAdjust="spacingAndGlyphs" >2.05500</text>
<text x="977.3" y="233.6" font-size="9.2" fill="#2a2e39" stroke="#2a2e39" stroke-width="0.1" text-anchor="start" font-weight="normal" textLength="29.7" lengthAdjust="spacingAndGlyphs" >2.05000</text>
<text x="977.3" y="261.4" font-size="9.2" fill="#2a2e39" stroke="#2a2e39" stroke-width="0.1" text-anchor="start" font-weight="normal" textLength="29.7" lengthAdjust="spacingAndGlyphs" >2.04500</text>
<text x="977.3" y="289.2" font-size="9.2" fill="#2a2e39" stroke="#2a2e39" stroke-width="0.1" text-anchor="start" font-weight="normal" textLength="29.7" lengthAdjust="spacingAndGlyphs" >2.04000</text>
<text x="977.3" y="317.0" font-size="9.2" fill="#2a2e39" stroke="#2a2e39" stroke-width="0.1" text-anchor="start" font-weight="normal" textLength="29.7" lengthAdjust="spacingAndGlyphs" >2.03500</text>
<text x="977.3" y="344.8" font-size="9.2" fill="#2a2e39" stroke="#2a2e39" stroke-width="0.1" text-anchor="start" font-weight="normal" textLength="29.7" lengthAdjust="spacingAndGlyphs" >2.03000</text>
<text x="977.3" y="372.6" font-size="9.2" fill="#2a2e39" stroke="#2a2e39" stroke-width="0.1" text-anchor="start" font-weight="normal" textLength="29.7" lengthAdjust="spacingAndGlyphs" >2.02500</text>
<text x="977.3" y="400.5" font-size="9.2" fill="#2a2e39" stroke="#2a2e39" stroke-width="0.1" text-anchor="start" font-weight="normal" textLength="29.7" lengthAdjust="spacingAndGlyphs" >2.02000</text>
<rect x="973.5" y="22.5" width="40.5" height="17" rx="3" fill="#fff" stroke="#eceef2" stroke-width="1"/>
<text x="979.5" y="34.2" font-size="8.5" fill="#131722" stroke="#131722" stroke-width="0.1" text-anchor="start" font-weight="normal" textLength="15.5" lengthAdjust="spacingAndGlyphs" >AUD</text>
<rect x="971" y="45.3" width="40" height="23.4" fill="#00bcd4" rx="1"/><text x="977.3" y="54.3" font-size="8.5" fill="#131722" stroke="#131722" stroke-width="0.1" text-anchor="start" font-weight="normal" textLength="29.7" lengthAdjust="spacingAndGlyphs" >2.08005</text><text x="977.3" y="66.0" font-size="8.5" fill="#131722" stroke="#131722" stroke-width="0.1" text-anchor="start" font-weight="normal" textLength="29.7" lengthAdjust="spacingAndGlyphs" >2.08000</text>
<rect x="971" y="93.2" width="40" height="11.7" fill="#f57c00" rx="1"/><text x="977.3" y="102.0" font-size="8.5" fill="#ffffff" stroke="#ffffff" stroke-width="0.1" text-anchor="start" font-weight="normal" textLength="29.7" lengthAdjust="spacingAndGlyphs" >2.07352</text>
<rect x="971" y="113.3" width="40" height="11.7" fill="#00bcd4" rx="1"/><text x="977.3" y="122.2" font-size="8.5" fill="#131722" stroke="#131722" stroke-width="0.1" text-anchor="start" font-weight="normal" textLength="29.7" lengthAdjust="spacingAndGlyphs" >2.07000</text>
<rect x="971" y="145" width="40" height="11.4" fill="#2962ff" rx="1"/><text x="977.3" y="153.7" font-size="8.5" fill="#ffffff" stroke="#ffffff" stroke-width="0.1" text-anchor="start" font-weight="normal" textLength="29.7" lengthAdjust="spacingAndGlyphs" >2.06220</text>
<rect x="971" y="156.4" width="40" height="11.9" fill="#787b86" rx="1"/><text x="977.3" y="165.3" font-size="8.5" fill="#ffffff" stroke="#ffffff" stroke-width="0.1" text-anchor="start" font-weight="normal" textLength="29.7" lengthAdjust="spacingAndGlyphs" >2.06220</text>
<rect x="971" y="171.6" width="42.7" height="21.2" fill="#f23645" rx="1"/><text x="977.3" y="180.0" font-size="8.5" fill="#ffffff" stroke="#ffffff" stroke-width="0.1" text-anchor="start" font-weight="normal" textLength="29.7" lengthAdjust="spacingAndGlyphs" >2.05952</text><text x="977.3" y="190.4" font-size="8.5" fill="#ffffff" stroke="#ffffff" stroke-width="0.1" text-anchor="start" font-weight="normal" textLength="33.2" lengthAdjust="spacingAndGlyphs" >01:29:06</text>
<rect x="971" y="225" width="40" height="11.6" fill="#2962ff" rx="1"/><text x="977.3" y="233.8" font-size="8.5" fill="#ffffff" stroke="#ffffff" stroke-width="0.1" text-anchor="start" font-weight="normal" textLength="29.7" lengthAdjust="spacingAndGlyphs" >2.04987</text>
<rect x="971" y="347.6" width="40" height="11.7" fill="#7fcbb6" rx="1"/><text x="977.3" y="356.4" font-size="8.5" fill="#131722" stroke="#131722" stroke-width="0.1" text-anchor="start" font-weight="normal" textLength="29.7" lengthAdjust="spacingAndGlyphs" >2.02800</text></g>
<g><text x="25.4" y="429.6" font-size="9.3" fill="#131722" stroke="#131722" stroke-width="0.1" text-anchor="middle" font-weight="normal" textLength="8.9" lengthAdjust="spacingAndGlyphs" >28</text>
<text x="63.8" y="429.6" font-size="9.3" fill="#131722" stroke="#131722" stroke-width="0.1" text-anchor="middle" font-weight="bold" textLength="11.6" lengthAdjust="spacingAndGlyphs" >Jul</text>
<text x="102.2" y="429.6" font-size="9.3" fill="#131722" stroke="#131722" stroke-width="0.1" text-anchor="middle" font-weight="normal" textLength="4.4" lengthAdjust="spacingAndGlyphs" >2</text>
<text x="140.6" y="429.6" font-size="9.3" fill="#131722" stroke="#131722" stroke-width="0.1" text-anchor="middle" font-weight="normal" textLength="4.4" lengthAdjust="spacingAndGlyphs" >3</text>
<text x="179.0" y="429.6" font-size="9.3" fill="#131722" stroke="#131722" stroke-width="0.1" text-anchor="middle" font-weight="normal" textLength="4.4" lengthAdjust="spacingAndGlyphs" >4</text>
<text x="217.4" y="429.6" font-size="9.3" fill="#131722" stroke="#131722" stroke-width="0.1" text-anchor="middle" font-weight="normal" textLength="4.4" lengthAdjust="spacingAndGlyphs" >5</text>
<text x="255.8" y="429.6" font-size="9.3" fill="#131722" stroke="#131722" stroke-width="0.1" text-anchor="middle" font-weight="normal" textLength="4.4" lengthAdjust="spacingAndGlyphs" >8</text>
<text x="294.2" y="429.6" font-size="9.3" fill="#131722" stroke="#131722" stroke-width="0.1" text-anchor="middle" font-weight="normal" textLength="4.4" lengthAdjust="spacingAndGlyphs" >9</text>
<text x="332.6" y="429.6" font-size="9.3" fill="#131722" stroke="#131722" stroke-width="0.1" text-anchor="middle" font-weight="normal" textLength="8.9" lengthAdjust="spacingAndGlyphs" >10</text>
<text x="371.0" y="429.6" font-size="9.3" fill="#131722" stroke="#131722" stroke-width="0.1" text-anchor="middle" font-weight="normal" textLength="8.3" lengthAdjust="spacingAndGlyphs" >11</text>
<text x="409.4" y="429.6" font-size="9.3" fill="#131722" stroke="#131722" stroke-width="0.1" text-anchor="middle" font-weight="normal" textLength="8.9" lengthAdjust="spacingAndGlyphs" >12</text>
<text x="447.8" y="429.6" font-size="9.3" fill="#131722" stroke="#131722" stroke-width="0.1" text-anchor="middle" font-weight="normal" textLength="8.9" lengthAdjust="spacingAndGlyphs" >15</text>
<text x="486.2" y="429.6" font-size="9.3" fill="#131722" stroke="#131722" stroke-width="0.1" text-anchor="middle" font-weight="normal" textLength="8.9" lengthAdjust="spacingAndGlyphs" >16</text>
<text x="524.6" y="429.6" font-size="9.3" fill="#131722" stroke="#131722" stroke-width="0.1" text-anchor="middle" font-weight="normal" textLength="8.9" lengthAdjust="spacingAndGlyphs" >17</text>
<text x="563.0" y="429.6" font-size="9.3" fill="#131722" stroke="#131722" stroke-width="0.1" text-anchor="middle" font-weight="normal" textLength="8.9" lengthAdjust="spacingAndGlyphs" >18</text>
<text x="601.4" y="429.6" font-size="9.3" fill="#131722" stroke="#131722" stroke-width="0.1" text-anchor="middle" font-weight="normal" textLength="8.9" lengthAdjust="spacingAndGlyphs" >19</text>
<text x="639.8" y="429.6" font-size="9.3" fill="#131722" stroke="#131722" stroke-width="0.1" text-anchor="middle" font-weight="normal" textLength="8.9" lengthAdjust="spacingAndGlyphs" >22</text>
<text x="678.2" y="429.6" font-size="9.3" fill="#131722" stroke="#131722" stroke-width="0.1" text-anchor="middle" font-weight="normal" textLength="8.9" lengthAdjust="spacingAndGlyphs" >23</text>
<text x="716.6" y="429.6" font-size="9.3" fill="#131722" stroke="#131722" stroke-width="0.1" text-anchor="middle" font-weight="normal" textLength="8.9" lengthAdjust="spacingAndGlyphs" >24</text>
<text x="755.0" y="429.6" font-size="9.3" fill="#131722" stroke="#131722" stroke-width="0.1" text-anchor="middle" font-weight="normal" textLength="8.9" lengthAdjust="spacingAndGlyphs" >25</text>
<text x="793.4" y="429.6" font-size="9.3" fill="#131722" stroke="#131722" stroke-width="0.1" text-anchor="middle" font-weight="normal" textLength="8.9" lengthAdjust="spacingAndGlyphs" >26</text>
<text x="831.8" y="429.6" font-size="9.3" fill="#131722" stroke="#131722" stroke-width="0.1" text-anchor="middle" font-weight="normal" textLength="8.9" lengthAdjust="spacingAndGlyphs" >29</text>
<text x="870.2" y="429.6" font-size="9.3" fill="#131722" stroke="#131722" stroke-width="0.1" text-anchor="middle" font-weight="normal" textLength="8.9" lengthAdjust="spacingAndGlyphs" >30</text>
<text x="908.6" y="429.6" font-size="9.3" fill="#131722" stroke="#131722" stroke-width="0.1" text-anchor="middle" font-weight="normal" textLength="8.9" lengthAdjust="spacingAndGlyphs" >31</text>
<text x="947.0" y="429.6" font-size="9.3" fill="#131722" stroke="#131722" stroke-width="0.1" text-anchor="middle" font-weight="bold" textLength="15.5" lengthAdjust="spacingAndGlyphs" >Aug</text></g>
<g fill="#131722"><path d="M7,444.8 H12.8 V452 H10.2 V447.3 H7 Z"/><circle cx="14.3" cy="446.2" r="1.25"/><path d="M16.6,444.8 H20.9 L18.2,452 H15.0 Z"/></g><text x="24.6" y="452" font-size="9.4" fill="#2a2e39" stroke="#2a2e39" stroke-width="0.1" text-anchor="start" font-weight="normal" textLength="48.3" lengthAdjust="spacingAndGlyphs" >TradingView</text>
</svg>
</body></html>
